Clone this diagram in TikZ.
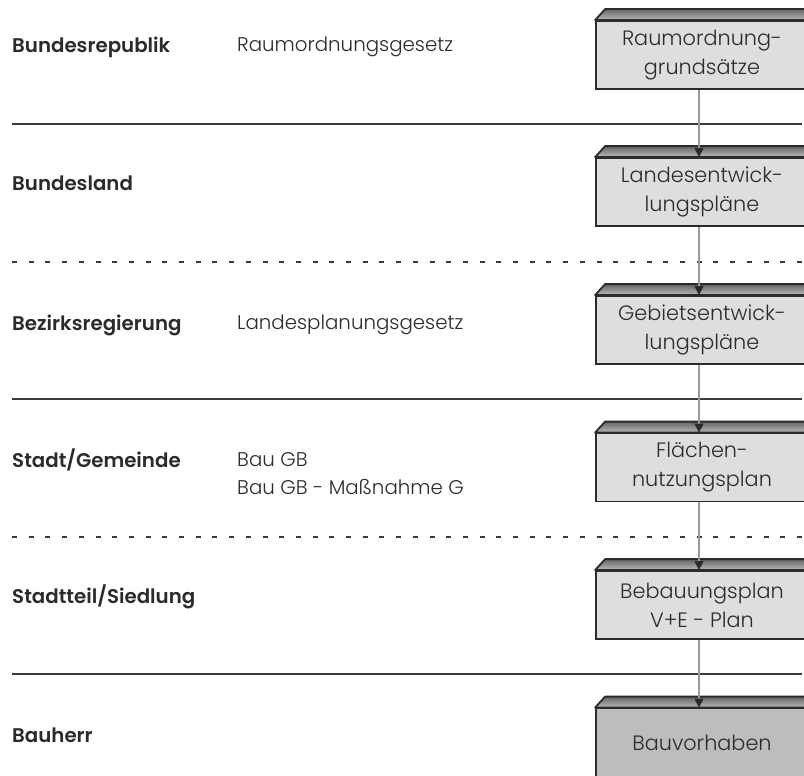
\documentclass[tikz,border=0pt]{standalone}
\usepackage{fontspec}
\setmainfont{Poppins}[UprightFont={* Light},BoldFont={* SemiBold}]
\usetikzlibrary{arrows.meta}
\definecolor{ink}{HTML}{2B2B2B}
\definecolor{rule}{HTML}{3A3A3A}
\definecolor{boxfill}{HTML}{DEDEDE}
\definecolor{boxdark}{HTML}{BDBDBD}
\definecolor{topface}{HTML}{8E8E8E}
\definecolor{wire}{HTML}{9A9A9A}
\begin{document}
\begin{tikzpicture}[x=1pt,y=-1pt,
  level/.style={anchor=west,font=\bfseries\fontsize{19.8}{24}\selectfont,text=ink,inner sep=0pt},
  law/.style={anchor=west,font=\fontsize{19.8}{28}\selectfont,text=ink,inner sep=0pt,align=left},
  plan/.style={draw=ink,line width=1.8pt,fill=boxfill,minimum width=212pt,minimum height=68pt,
    align=center,font=\fontsize{20.8}{29}\selectfont,text=ink,inner sep=0pt},
  final/.style={plan,fill=boxdark},
  solidrule/.style={draw=rule,line width=1.8pt},
  dashrule/.style={draw=rule,line width=1.8pt,dash pattern=on 5pt off 11.7pt},
  flow/.style={draw=wire,line width=1.3pt,-{Triangle[length=9pt,width=9pt,color=ink]}},
  roof/.style={draw=ink,line width=1.8pt,line join=round,top color=topface!70!black,bottom color=topface!60!white}
]
\useasboundingbox (0,0) rectangle (804,776);
\clip (0,0) rectangle (804,776);
\fill[white] (0,0) rectangle (804,776);

% tier separators
\coordinate (s1a) at (12,124); \coordinate (s1b) at (802,124);
\coordinate (s2a) at (12,262); \coordinate (s2b) at (802,262);
\coordinate (s3a) at (12,399); \coordinate (s3b) at (802,399);
\coordinate (s4a) at (12,537); \coordinate (s4b) at (802,537);
\coordinate (s5a) at (12,674); \coordinate (s5b) at (802,674);
\draw[solidrule] (s1a) -- (s1b);
\draw[dashrule]  (s2a) -- (s2b);
\draw[solidrule] (s3a) -- (s3b);
\draw[dashrule]  (s4a) -- (s4b);
\draw[solidrule] (s5a) -- (s5b);

% administrative levels
\node[level] (l1) at (12,47)  {Bundesrepublik};
\node[level] (l2) at (12,183) {Bundesland};
\node[level] (l3) at (12,325) {Bezirksregierung};
\node[level] (l4) at (12,460) {Stadt/Gemeinde};
\node[level] (l5) at (12,597) {Stadtteil/Siedlung};
\node[level] (l6) at (12,735) {Bauherr};

% legal basis
\node[law] (g1) at (237,47)  {Raumordnungsgesetz};
\node[law] (g3) at (237,325) {Landesplanungsgesetz};
\node[law] (g4) at (237,474) {Bau GB\\Bau GB - Maßnahme G};

% planning instruments (front faces)
\node[plan]  (b1) at (702,55)    {Raumordnung-\\grundsätze};
\node[plan]  (b2) at (702,192)   {Landesentwick-\\lungspläne};
\node[plan]  (b3) at (702,330)   {Gebietsentwick-\\lungspläne};
\node[plan]  (b4) at (702,467.5) {Flächen-\\nutzungsplan};
\node[plan]  (b5) at (702,605)   {Bebauungsplan\\V+E - Plan};
\node[final] (b6) at (702,742.5) {Bauvorhaben};

% roof faces of the blocks
\foreach \b in {b1,b2,b3,b4,b5,b6}{
  \draw[roof] (\b.north west) -- ++(10,-11) -- ++(230,0) -- ++(-10,11) -- cycle;
}

% downward flow
\foreach \u/\l in {b1/b2,b2/b3,b3/b4,b4/b5,b5/b6}{
  \draw[flow] ([xshift=-3pt]\u.south) -- ([xshift=-3pt]\l.north);
}
\end{tikzpicture}
\end{document}
